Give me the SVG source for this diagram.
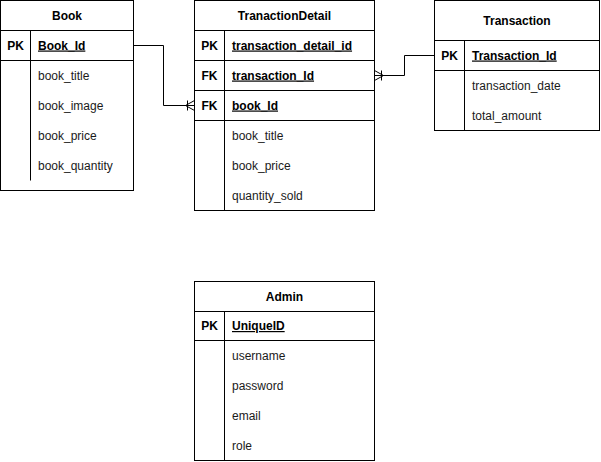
<svg xmlns="http://www.w3.org/2000/svg" width="601" height="462" viewBox="0 0 601 462">
  <style>
    .box { fill: #ffffff; stroke: #000000; stroke-width: 1; }
    .ln { fill: none; stroke: #000000; stroke-width: 1; }
    text { font-family: "Liberation Sans", Arial, Helvetica, sans-serif; font-size: 12px; fill: #000000; }
    .title { font-weight: bold; text-anchor: middle; }
    .key { font-weight: bold; text-anchor: middle; }
    .pkname { font-weight: bold; text-decoration: underline; }
    .attr { fill: #1a1a1a; }
  </style>
  <rect width="601" height="462" fill="#ffffff"/>

  <!-- Book table -->
  <g id="book">
    <rect class="box" x="0.5" y="0.5" width="133" height="190"/>
    <line class="ln" x1="0.5" y1="30.5" x2="133.5" y2="30.5"/>
    <line class="ln" x1="0.5" y1="60.5" x2="133.5" y2="60.5"/>
    <line class="ln" x1="30.5" y1="30.5" x2="30.5" y2="180.5"/>
    <text class="title" x="67" y="19.5">Book</text>
    <text class="key" x="15.5" y="49.5">PK</text>
    <text class="pkname" x="38" y="49.5">Book_Id</text>
    <text class="attr" x="38" y="79.5">book_title</text>
    <text class="attr" x="38" y="109.5">book_image</text>
    <text class="attr" x="38" y="139.5">book_price</text>
    <text class="attr" x="38" y="169.5">book_quantity</text>
  </g>

  <!-- TranactionDetail table -->
  <g id="tranactiondetail">
    <rect class="box" x="194.5" y="0.5" width="180" height="210"/>
    <line class="ln" x1="194.5" y1="30.5" x2="374.5" y2="30.5"/>
    <line class="ln" x1="194.5" y1="60.5" x2="374.5" y2="60.5"/>
    <line class="ln" x1="194.5" y1="90.5" x2="374.5" y2="90.5"/>
    <line class="ln" x1="194.5" y1="120.5" x2="374.5" y2="120.5"/>
    <line class="ln" x1="224.5" y1="30.5" x2="224.5" y2="210.5"/>
    <text class="title" x="284.5" y="19.5">TranactionDetail</text>
    <text class="key" x="209.5" y="49.5">PK</text>
    <text class="pkname" x="232" y="49.5">transaction_detail_id</text>
    <text class="key" x="209.5" y="79.5">FK</text>
    <text class="pkname" x="232" y="79.5">transaction_Id</text>
    <text class="key" x="209.5" y="109.5">FK</text>
    <text class="pkname" x="232" y="109.5">book_Id</text>
    <text class="attr" x="232" y="139.5">book_title</text>
    <text class="attr" x="232" y="169.5">book_price</text>
    <text class="attr" x="232" y="199.5">quantity_sold</text>
  </g>

  <!-- Transaction table -->
  <g id="transaction">
    <rect class="box" x="434.5" y="0.5" width="165" height="130"/>
    <line class="ln" x1="434.5" y1="40.5" x2="599.5" y2="40.5"/>
    <line class="ln" x1="434.5" y1="70.5" x2="599.5" y2="70.5"/>
    <line class="ln" x1="464.5" y1="40.5" x2="464.5" y2="130.5"/>
    <text class="title" x="517" y="24.5">Transaction</text>
    <text class="key" x="449.5" y="59.5">PK</text>
    <text class="pkname" x="472" y="59.5">Transaction_Id</text>
    <text class="attr" x="472" y="89.5">transaction_date</text>
    <text class="attr" x="472" y="119.5">total_amount</text>
  </g>

  <!-- Admin table -->
  <g id="admin">
    <rect class="box" x="194.5" y="281.5" width="180" height="179"/>
    <line class="ln" x1="194.5" y1="311.5" x2="374.5" y2="311.5"/>
    <line class="ln" x1="194.5" y1="340.5" x2="374.5" y2="340.5"/>
    <line class="ln" x1="224.5" y1="311.5" x2="224.5" y2="460.5"/>
    <text class="title" x="284.5" y="300.5">Admin</text>
    <text class="key" x="209.5" y="330">PK</text>
    <text class="pkname" x="232" y="330">UniqueID</text>
    <text class="attr" x="232" y="359.5">username</text>
    <text class="attr" x="232" y="389.5">password</text>
    <text class="attr" x="232" y="419.5">email</text>
    <text class="attr" x="232" y="449.5">role</text>
  </g>

  <!-- Relationships -->
  <g id="connectors">
    <!-- Book.Book_Id to TranactionDetail.book_Id -->
    <polyline class="ln" points="133.5,45.5 163.5,45.5 163.5,105.5 194.5,105.5"/>
    <path class="ln" d="M194.5,100.5 L185.5,105.5 L194.5,110.5 M187.5,100.5 L187.5,110.5"/>
    <!-- Transaction.Transaction_Id to TranactionDetail.transaction_Id -->
    <polyline class="ln" points="434.5,55.5 404.5,55.5 404.5,75.5 374.5,75.5"/>
    <path class="ln" d="M374.5,70.5 L383.5,75.5 L374.5,80.5 M381.5,70.5 L381.5,80.5"/>
  </g>
</svg>
